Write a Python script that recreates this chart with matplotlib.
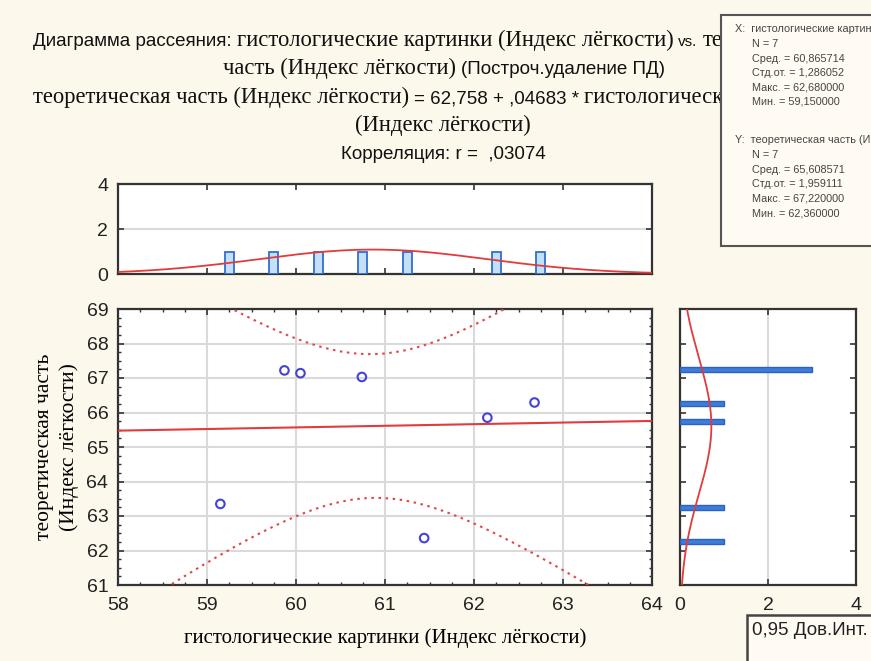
import numpy as np
import matplotlib
matplotlib.use('Agg')
import matplotlib.pyplot as plt
from matplotlib.ticker import MultipleLocator
from matplotlib.patches import Rectangle
from matplotlib.transforms import Bbox, TransformedBbox

# ---------- Data ------------------------------------------------------------------------------------------------------

hist_x = [59.15, 59.87, 60.05, 60.74, 61.44, 62.15, 62.68]     # гистологические картинки
teor_y = [63.35, 67.22, 67.14, 67.03, 62.36, 65.85, 66.29]     # теоретическая часть

intercept, slope = 62.758, 0.04683          # regression shown in the title
r_corr = 0.03074
n_obs = 7
mean_x, sd_x = 60.865714, 1.286052
mean_y, sd_y = 65.608571, 1.959111
t_crit = 2.5706                             # t(0.975, df=5)

stats_x = ['N = 7', 'Сред. = 60,865714', 'Стд.от. = 1,286052', 'Макс. = 62,680000', 'Мин. = 59,150000']
stats_y = ['N = 7', 'Сред. = 65,608571', 'Стд.от. = 1,959111', 'Макс. = 67,220000', 'Мин. = 62,360000']

bin_w = 0.5
x_edges = np.arange(58, 64 + bin_w, bin_w)
y_edges = np.arange(61, 69 + bin_w, bin_w)

# ---------- Figure ----------------------------------------------------------------------------------------------------

W, H = 871, 661
BG = '#fdf8ec'
SANS = 'Liberation Sans'
SERIF = 'Liberation Serif'
plt.rcParams['font.family'] = [SANS, 'DejaVu Sans']

fig = plt.figure(figsize=(W / 100, H / 100), dpi=100, facecolor=BG)


def rect(x0, x1, ytop, ybot):               # pixel box -> figure fraction
    return [x0 / W, 1 - ybot / H, (x1 - x0) / W, (ybot - ytop) / H]


ax = fig.add_axes(rect(118, 652, 309, 585))
ax_top = fig.add_axes(rect(118, 652, 184, 274))
ax_rt = fig.add_axes(rect(680, 856, 309, 585))

for a in (ax, ax_top, ax_rt):
    for s in a.spines.values():
        s.set_color('#333333')
        s.set_linewidth(1.6)
    a.tick_params(which='both', direction='in', top=True, right=True, color='#333333',
                  labelsize=14, labelcolor='#222222', pad=7)
    a.tick_params(which='major', length=4, width=1.2)
    a.tick_params(which='minor', length=2.5, width=1)

# ---------- Scatter with fit and 95% confidence band ------------------------------------------------------------------

s_res = sd_y * np.sqrt((1 - r_corr ** 2) * (n_obs - 1) / (n_obs - 2))
sxx = (n_obs - 1) * sd_x ** 2
xx = np.linspace(58, 64, 200)
fit = intercept + slope * xx
half = t_crit * s_res * np.sqrt(1 / n_obs + (xx - mean_x) ** 2 / sxx)

ax.plot(xx, fit, color='#e23b3b', lw=1.5, zorder=3)
ax.plot(xx, fit + half, color='#e24848', lw=1.5, ls=(0, (1.2, 2.2)), zorder=3)
ax.plot(xx, fit - half, color='#e24848', lw=1.5, ls=(0, (1.2, 2.2)), zorder=3)
ax.scatter(hist_x, teor_y, s=38, facecolors='none', edgecolors='#4343dc', linewidths=1.5, zorder=4)

ax.set_xlim(58, 64)
ax.set_ylim(61, 69)
ax.xaxis.set_major_locator(MultipleLocator(1))
ax.yaxis.set_major_locator(MultipleLocator(1))
ax.xaxis.set_minor_locator(MultipleLocator(0.25))
ax.yaxis.set_minor_locator(MultipleLocator(0.25))
ax.tick_params(axis='x', pad=9)
ax.grid(True, which='major', color='#dadada', lw=1.5)
ax.set_axisbelow(True)

ax.set_xlabel('гистологические картинки (Индекс лёгкости)', family=SERIF, fontsize=15, labelpad=10)
ax.set_ylabel('теоретическая часть\n(Индекс лёгкости)', family=SERIF, fontsize=15.5, labelpad=5,
              linespacing=1.4)

# ---------- Marginal histograms ---------------------------------------------------------------------------------------

_, _, bars = ax_top.hist(hist_x, bins=x_edges, rwidth=0.2, facecolor='#c4e0f7', edgecolor='#2f6fd0',
                         lw=1.3, zorder=3)
for b in bars:
    b.set_visible(b.get_height() > 0)
xn = np.linspace(58, 64, 200)
ax_top.plot(xn, n_obs * bin_w * np.exp(-0.5 * ((xn - mean_x) / sd_x) ** 2) / (sd_x * np.sqrt(2 * np.pi)),
            color='#e23b3b', lw=1.3, zorder=4)
ax_top.set_xlim(58, 64)
ax_top.set_ylim(0, 4)
ax_top.xaxis.set_major_locator(MultipleLocator(1))
ax_top.yaxis.set_major_locator(MultipleLocator(2))
ax_top.tick_params(axis='x', labelbottom=False)
ax_top.grid(True, axis='y', color='#dadada', lw=1.5)
ax_top.set_axisbelow(True)

_, _, bars = ax_rt.hist(teor_y, bins=y_edges, rwidth=0.3, orientation='horizontal',
                        facecolor='#3f7bd8', edgecolor='#2a62c6', lw=1, zorder=3)
for b in bars:
    b.set_visible(b.get_width() > 0)
yn = np.linspace(61, 69, 200)
ax_rt.plot(n_obs * bin_w * np.exp(-0.5 * ((yn - mean_y) / sd_y) ** 2) / (sd_y * np.sqrt(2 * np.pi)), yn,
           color='#e23b3b', lw=1.3, zorder=4)
ax_rt.set_xlim(0, 4)
ax_rt.set_ylim(61, 69)
ax_rt.xaxis.set_major_locator(MultipleLocator(2))
ax_rt.yaxis.set_major_locator(MultipleLocator(1))
ax_rt.tick_params(axis='y', labelleft=False)
ax_rt.tick_params(axis='x', pad=9)
ax_rt.grid(True, axis='x', color='#dadada', lw=1.5)
ax_rt.set_axisbelow(True)

# ---------- Title (mixed fonts, several rows) -------------------------------------------------------------------------

renderer = fig.canvas.get_renderer()
sans_t = dict(family=[SANS, 'DejaVu Sans'], fontsize=13.5, color='#111111')
serif_t = dict(family=[SERIF, 'DejaVu Serif'], fontsize=16.3, color='#111111')
title_clip = TransformedBbox(Bbox([[0, 0], [720 / W, 1]]), fig.transFigure)   # the stats box hides the rest


def put_row(parts, y, x=None, cx=None, gap=5):
    texts = [fig.text(0, 0, s, ha='left', va='baseline', zorder=2, **st) for s, st in parts]
    widths = [t.get_window_extent(renderer).width for t in texts]
    total = sum(widths) + gap * (len(texts) - 1)
    pos = x if x is not None else cx - total / 2
    for t, w in zip(texts, widths):
        t.set_position((pos / W, 1 - y / H))
        t.set_clip_box(title_clip)
        t.set_clip_on(True)
        pos += w + gap


put_row([('Диаграмма рассеяния:', sans_t),
         ('гистологические картинки (Индекс лёгкости)', serif_t),
         ('vs.', dict(sans_t, fontsize=11)),
         ('теоретическая', serif_t)], 46, x=33)
put_row([('часть (Индекс лёгкости)', serif_t), ('(Построч.удаление ПД)', sans_t)], 74, cx=444)
put_row([('теоретическая часть (Индекс лёгкости)', serif_t),
         ('= 62,758 + ,04683 *', sans_t),
         ('гистологические картинки', serif_t)], 103, x=33)
put_row([('(Индекс лёгкости)', serif_t)], 131, cx=443)
put_row([('Корреляция: r =  ,03074', sans_t)], 159, cx=443)

# ---------- Statistics box (top right) --------------------------------------------------------------------------------

fig.add_artist(Rectangle((721 / W, 1 - 246 / H), 200 / W, 231 / H, transform=fig.transFigure,
                         facecolor='#fffbf2', edgecolor='#555555', lw=1.5, zorder=10))
box_t = dict(family=[SANS, 'DejaVu Sans'], fontsize=7.8, color='#444444', va='center', zorder=11)
fig.text(735 / W, 1 - 29 / H, 'X:  гистологические картинки (Индекс лёгкости)', **box_t)
for i, s in enumerate(stats_x):
    fig.text(752 / W, 1 - (44 + 14.5 * i) / H, s, **box_t)
fig.text(735 / W, 1 - 140 / H, 'Y:  теоретическая часть (Индекс лёгкости)', **box_t)
for i, s in enumerate(stats_y):
    fig.text(752 / W, 1 - (155 + 14.5 * i) / H, s, **box_t)

# ---------- Legend box (bottom right) ---------------------------------------------------------------------------------

fig.add_artist(Rectangle((747 / W, 1 - 700 / H), 200 / W, 85 / H, transform=fig.transFigure,
                         facecolor='#fffbf2', edgecolor='#444444', lw=1.8, zorder=10))
fig.text(752 / W, 1 - 635 / H, '0,95 Дов.Инт.', family=[SANS, 'DejaVu Sans'], fontsize=13.5,
         color='#222222', va='baseline', zorder=11)

fig.savefig('out.png', dpi=100, facecolor=BG)
